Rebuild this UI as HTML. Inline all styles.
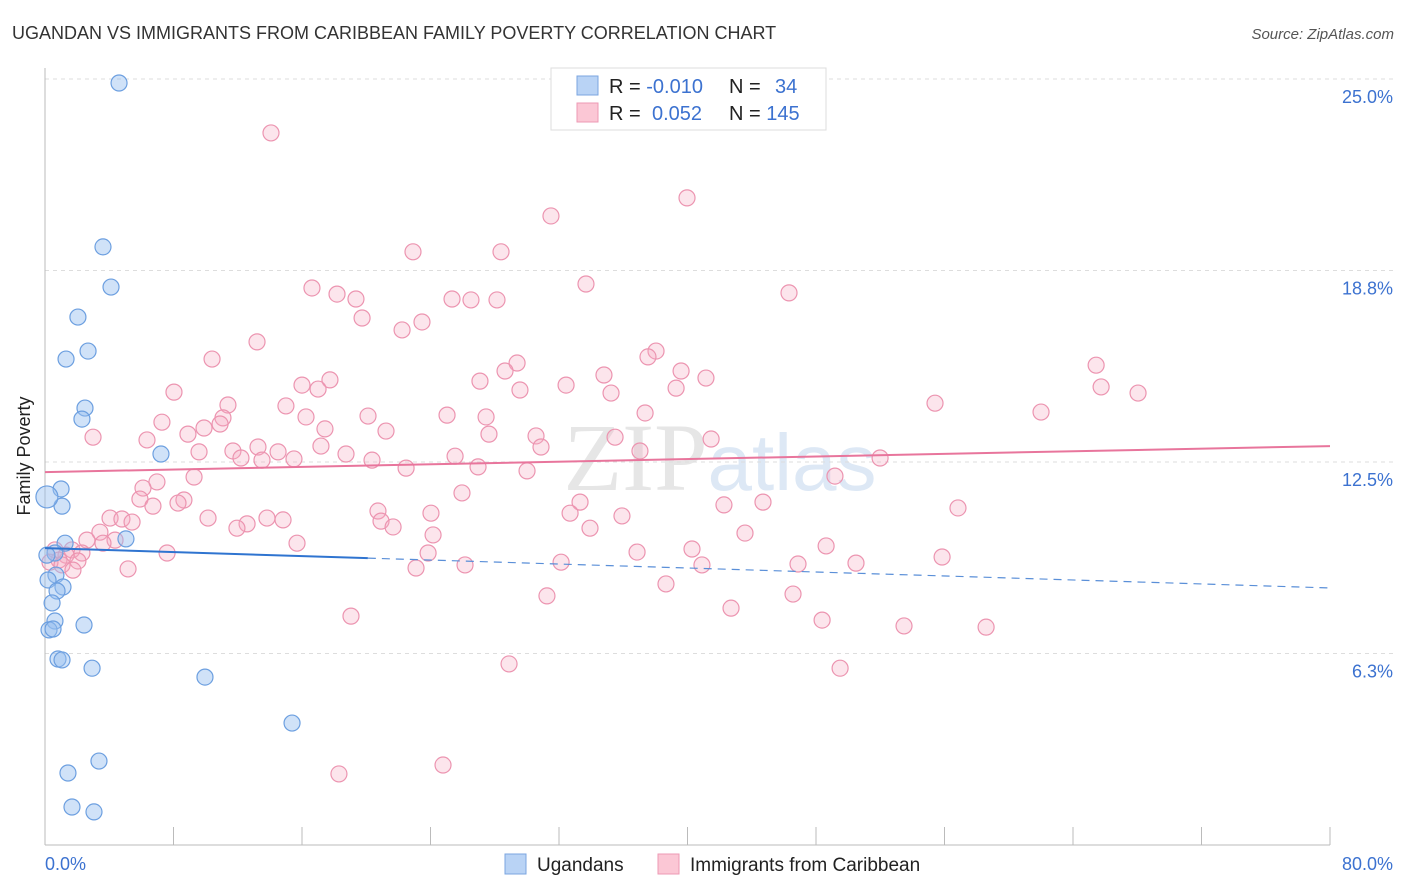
<!DOCTYPE html>
<html><head><meta charset="utf-8"><style>
body{margin:0;background:#fff;font-family:"Liberation Sans",sans-serif}
svg{display:block}
</style></head><body>
<svg id="chart" width="1406" height="892">
<text x="12" y="39" font-size="18" fill="#333">UGANDAN VS IMMIGRANTS FROM CARIBBEAN FAMILY POVERTY CORRELATION CHART</text>
<text x="1394" y="39" font-size="15" fill="#555" font-style="italic" text-anchor="end">Source: ZipAtlas.com</text>
<text x="720" y="490" font-size="96" fill="#e6e6e6" text-anchor="middle" font-family="Liberation Serif">ZIP<tspan fill="#dde8f5" font-family="Liberation Sans" font-size="80">atlas</tspan></text>
<g id="grid"></g>
<g id="axes"></g>
<g id="points"></g>
<g id="trends"></g>
<text x="30" y="456" font-size="18" fill="#222" text-anchor="middle" transform="rotate(-90 30 456)">Family Poverty</text>
<g>
<rect x="551" y="68" width="275" height="62" fill="#fff" stroke="#ddd"/>
<rect x="577" y="76" width="21" height="19" fill="#b9d3f5" stroke="#7ba6e0"/>
<rect x="577" y="103" width="21" height="19" fill="#fbc7d5" stroke="#ee9ab4"/>
<text x="609" y="93" font-size="20" fill="#222">R = <tspan fill="#3c72d0">-0.010</tspan></text>
<text x="729" y="93" font-size="20" fill="#222">N = <tspan fill="#3c72d0" x="775">34</tspan></text>
<text x="609" y="120" font-size="20" fill="#222">R = <tspan fill="#3c72d0" x="652">0.052</tspan></text>
<text x="729" y="120" font-size="20" fill="#222">N = <tspan fill="#3c72d0">145</tspan></text>
</g>
<g>
<rect x="505" y="854" width="21" height="20" fill="#b9d3f5" stroke="#7ba6e0"/>
<text x="537" y="871" font-size="19" fill="#222">Ugandans</text>
<rect x="658" y="854" width="21" height="20" fill="#fbc7d5" stroke="#ee9ab4"/>
<text x="690" y="871" font-size="19" fill="#222">Immigrants from Caribbean</text>
</g>
</svg>
<script>
const blueX=[4.61,3.61,4.11,2.05,1.31,2.68,2.49,2.30,7.22,1.00,1.06,0.12,1.25,5.04,0.62,0.68,0.19,1.12,0.75,0.44,0.62,0.25,0.50,2.43,0.81,1.06,2.93,9.96,15.38,3.36,1.43,1.68,3.05,0.12];
const blueY=[24.87,19.52,18.21,17.23,15.86,16.12,14.26,13.90,12.76,11.62,11.06,11.36,9.85,9.99,9.53,8.81,8.65,8.42,8.29,7.90,7.31,7.02,7.05,7.18,6.07,6.04,5.77,5.48,3.98,2.74,2.35,1.24,1.08,9.46];
const pinkX=[14.07,39.97,31.50,22.91,28.39,33.68,16.62,18.18,19.36,25.34,26.52,28.14,46.32,19.74,23.47,22.23,13.20,38.04,10.40,37.54,29.39,65.44,28.64,34.80,39.60,27.08,41.15,17.74,16.00,17.00,32.44,65.75,8.03,35.24,39.29,29.57,68.05,11.39,15.00,55.41,62.01,11.08,7.28,16.25,20.11,25.03,27.46,37.36,10.90,9.90,21.23,17.43,2.99,6.35,8.90,27.64,30.57,35.49,41.47,13.26,30.88,9.59,11.70,14.51,15.50,17.18,18.74,37.04,25.53,20.36,12.20,13.51,22.48,26.96,30.01,51.99,49.18,9.28,6.97,6.10,25.96,5.91,8.65,8.28,6.72,33.31,44.70,42.27,56.84,20.73,32.69,24.03,4.05,4.79,5.42,10.15,13.82,14.82,20.92,21.67,12.58,11.95,35.92,33.93,3.42,4.36,24.16,43.58,2.61,3.61,15.69,48.63,1.68,0.62,1.31,2.30,7.60,36.86,40.28,23.85,0.87,0.31,2.05,1.06,55.85,32.13,26.15,50.49,46.88,40.90,5.17,23.10,1.74,38.66,46.57,31.25,42.71,19.05,48.38,53.48,58.59,28.89,49.50,18.30,24.78];
const pinkY=[23.24,21.12,20.53,19.36,19.36,18.31,18.18,17.98,17.82,17.82,17.79,17.79,18.02,17.20,17.07,16.81,16.42,16.12,15.86,15.93,15.73,15.66,15.47,15.34,15.47,15.14,15.24,15.18,15.01,14.88,15.01,14.95,14.78,14.75,14.91,14.85,14.75,14.36,14.33,14.42,14.13,13.94,13.80,13.97,14.00,14.03,13.97,14.10,13.74,13.61,13.51,13.58,13.31,13.22,13.41,13.41,13.35,13.31,13.25,12.99,12.99,12.83,12.86,12.83,12.60,13.02,12.76,12.86,12.69,12.56,12.63,12.56,12.30,12.34,12.21,12.63,12.04,12.01,11.85,11.65,11.49,11.29,11.26,11.16,11.06,11.19,11.19,11.10,11.00,10.90,10.83,10.83,10.67,10.64,10.54,10.67,10.67,10.61,10.57,10.38,10.48,10.34,10.74,10.34,10.21,9.95,10.12,10.18,9.95,9.85,9.85,9.76,9.63,9.63,9.46,9.53,9.53,9.56,9.66,9.53,9.30,9.23,9.27,9.14,9.40,9.23,9.14,9.20,9.17,9.14,9.01,9.04,8.97,8.52,8.19,8.13,7.73,7.47,7.34,7.15,7.11,5.91,5.77,2.32,2.61];
const yTicks=[25,18.75,12.5,6.25];
const yTickLabels=["25.0%","18.8%","12.5%","6.3%"];
const xTicks=[0,8,16,24,32,40,48,56,64,72,80];
const blueTrend=[0,9.69,20.1,80,8.39];
const pinkTrend=[0,12.17,80,13.02];
const NS="http://www.w3.org/2000/svg";
const X0=45,X1=1330,Y0=845,Y25=79;
const sx=v=>X0+(v/80)*(X1-X0);
const sy=v=>Y0-(v/25)*(Y0-Y25);
function mk(tag,attrs,parent){const e=document.createElementNS(NS,tag);for(const k in attrs)e.setAttribute(k,attrs[k]);parent.appendChild(e);return e;}
const grid=document.getElementById('grid'),axes=document.getElementById('axes'),pts=document.getElementById('points'),tr=document.getElementById('trends');
yTicks.forEach((t,i)=>{
 const l=mk('line',{x1:X0,x2:1394,y1:sy(t),y2:sy(t),stroke:'#ddd','stroke-dasharray':'4,4'},grid);
 
 
 const tx=mk('text',{x:1393,y:sy(t)+24,'font-size':18,fill:'#3c72d0','text-anchor':'end'},axes);
 tx.textContent=yTickLabels[i];
 
 
});
const ax=mk('line',{x1:X0,x2:X1,y1:Y0,y2:Y0,stroke:'#bbb'},axes);


const ay=mk('line',{x1:X0,x2:X0,y1:68,y2:Y0,stroke:'#bbb'},axes);


xTicks.forEach(t=>{
 const l=mk('line',{x1:sx(t),x2:sx(t),y1:Y0-18,y2:Y0,stroke:'#bbb'},axes);
 
 
});
[["0.0%",45,"start"],["80.0%",1393,"end"]].forEach(a=>{
 const t=mk('text',{x:a[1],y:870,'font-size':18,fill:'#3c72d0','text-anchor':a[2]},axes);
 t.textContent=a[0];
 
 
});
pinkX.forEach((v,i)=>{
 const c=mk('circle',{cx:sx(v),cy:sy(pinkY[i]),r:8,fill:'rgba(246,170,192,0.3)',stroke:'#ec94b0','stroke-width':1.2},pts);
 
 
});
blueX.forEach((v,i)=>{
 const c=mk('circle',{cx:sx(v),cy:sy(blueY[i]),r:(i==11?11:8),fill:'rgba(150,190,240,0.45)',stroke:'#6c9fe0','stroke-width':1.2},pts);
 
 
});
const by=x=>blueTrend[1]+(blueTrend[4]-blueTrend[1])*(x-blueTrend[0])/(blueTrend[3]-blueTrend[0]);
let l1=mk('line',{x1:sx(0),y1:sy(by(0)),x2:sx(blueTrend[2]),y2:sy(by(blueTrend[2])),stroke:'#2f74d0','stroke-width':2},tr);


let l2=mk('line',{x1:sx(blueTrend[2]),y1:sy(by(blueTrend[2])),x2:sx(80),y2:sy(by(80)),stroke:'#5a8fd8','stroke-width':1.2,'stroke-dasharray':'8,6'},tr);


let l3=mk('line',{x1:sx(pinkTrend[0]),y1:sy(pinkTrend[1]),x2:sx(pinkTrend[2]),y2:sy(pinkTrend[3]),stroke:'#e8759c','stroke-width':2},tr);


</script>
</body></html>
